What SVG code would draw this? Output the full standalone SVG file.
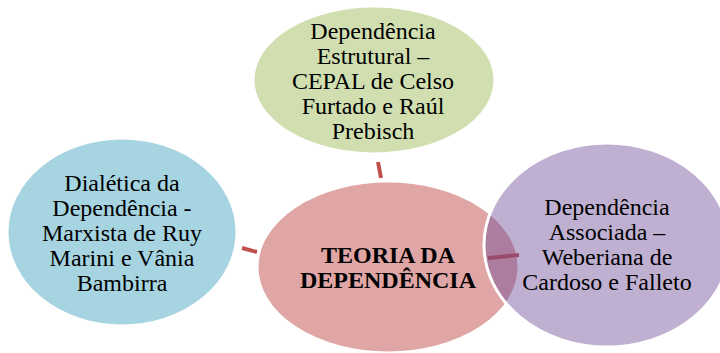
<svg xmlns="http://www.w3.org/2000/svg" width="720" height="353" viewBox="0 0 720 353">
<style>
.t{font-family:"Liberation Serif","Times New Roman",serif;font-size:24px;fill:#000;text-anchor:middle}
.b{font-weight:bold}
.c{stroke:#c0504d;stroke-width:4;fill:none}
.n{stroke:#fff;stroke-width:3}
</style>
<rect width="720" height="353" fill="#fff"/>
<g id="center">
<ellipse cx="388" cy="267" rx="131" ry="86" fill="#e0a6a5" class="n"/>
<text class="t b" x="388" y="263">TEORIA DA</text>
<text class="t b" x="388" y="288">DEPENDÊNCIA</text>
</g>
<g id="connectors">
<line class="c" x1="378" y1="162" x2="381" y2="178"/>
<line class="c" x1="242" y1="248" x2="257" y2="252"/>
<line class="c" x1="488" y1="258" x2="519" y2="255"/>
</g>
<g id="top">
<ellipse cx="374" cy="80" rx="121" ry="74" fill="#d1dfb0" class="n"/>
<text class="t" x="373" y="39">Dependência</text>
<text class="t" x="373" y="64">Estrutural –</text>
<text class="t" x="373" y="89">CEPAL de Celso</text>
<text class="t" x="373" y="114">Furtado e Raúl</text>
<text class="t" x="373" y="139">Prebisch</text>
</g>
<g id="left">
<ellipse cx="122" cy="232" rx="115" ry="94" fill="#a6d4e1" class="n"/>
<text class="t" x="122" y="191">Dialética da</text>
<text class="t" x="122" y="216">Dependência -</text>
<text class="t" x="122" y="241">Marxista de Ruy</text>
<text class="t" x="122" y="266">Marini e Vânia</text>
<text class="t" x="122" y="291">Bambirra</text>
</g>
<g id="right">
<ellipse cx="607" cy="245" rx="123" ry="102" fill="#6b4897" fill-opacity="0.43" class="n"/>
<text class="t" x="607" y="215">Dependência</text>
<text class="t" x="607" y="240">Associada –</text>
<text class="t" x="607" y="265">Weberiana de</text>
<text class="t" x="607" y="290">Cardoso e Falleto</text>
</g>
</svg>
